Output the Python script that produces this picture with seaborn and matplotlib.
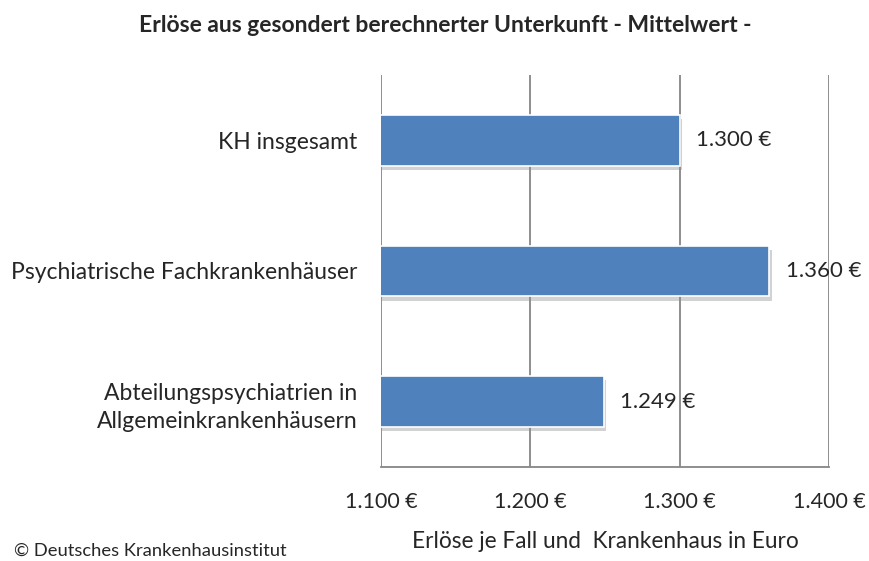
import matplotlib
matplotlib.use("Agg")
import matplotlib.pyplot as plt
import matplotlib.patheffects as pe
import seaborn as sns
import pandas as pd

categories = ["KH insgesamt", "Psychiatrische Fachkrankenhäuser",
              "Abteilungspsychiatrien in\nAllgemeinkrankenhäusern"]
values = [1300, 1360, 1249]
value_labels = ["1.300 €", "1.360 €", "1.249 €"]
xticks = [1100, 1200, 1300, 1400]
xtick_labels = ["1.100 €", "1.200 €", "1.300 €", "1.400 €"]

sns.set_style("white")
plt.rcParams['font.family'] = ['Lato', 'DejaVu Sans']

df = pd.DataFrame({"Gruppe": categories, "Wert": values})

fig = plt.figure(figsize=(8.69, 5.61), dpi=100)
ax = fig.add_axes([0.4384, 0.1676, 0.5156, 0.6987])

sns.barplot(data=df, x="Wert", y="Gruppe", color="#4F81BD", saturation=1,
            width=0.39, edgecolor="white", linewidth=1.2, ax=ax, zorder=3)
for bar in ax.patches:
    bar.set_path_effects([pe.SimplePatchShadow(offset=(2, -3), shadow_rgbFace="#8f8f8f", alpha=0.4),
                          pe.Normal()])

ax.bar_label(ax.containers[0], labels=value_labels, padding=12, fontsize=16)

ax.set_xlim(1100, 1400)
ax.set_ylim(2.5, -0.5)
ax.set_xticks(xticks)
ax.set_xticklabels(xtick_labels, fontsize=15.5)
ax.tick_params(axis="x", length=5, width=1.3, color="#868686", pad=13, direction="out")
ax.tick_params(axis="y", length=0, pad=17, labelsize=16.5)
for lbl in ax.get_yticklabels():
    lbl.set_linespacing(1.45)
ax.grid(axis="x", color="#868686", linewidth=1.3, zorder=0)
ax.set_axisbelow(True)
for s in ["top", "right", "left"]:
    ax.spines[s].set_visible(False)
ax.spines["bottom"].set_color("#868686")
ax.spines["bottom"].set_linewidth(1.3)

ax.set_ylabel("")
ax.set_xlabel("Erlöse je Fall und  Krankenhaus in Euro", fontsize=16.3, labelpad=14)

fig.text(0.512, 0.955, "Erlöse aus gesondert berechnerter Unterkunft - Mittelwert -",
         ha="center", va="center", fontsize=16.5, fontweight="bold")
fig.text(0.016, 0.004, "© Deutsches Krankenhausinstitut", ha="left", va="bottom", fontsize=13.2)

fig.savefig("out.png", dpi=100)
